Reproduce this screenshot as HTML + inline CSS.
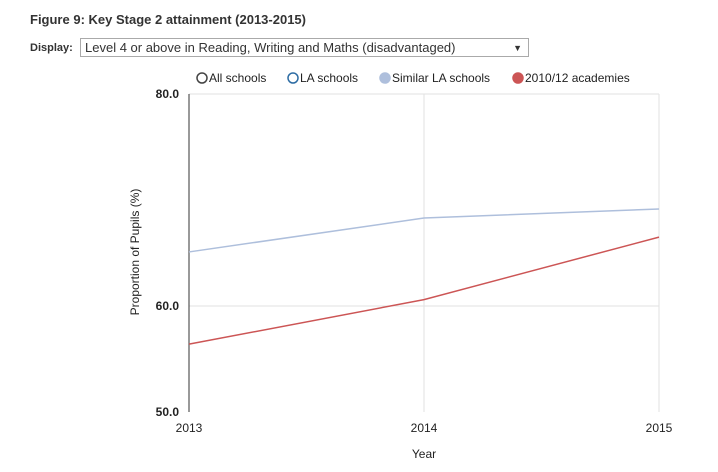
<!DOCTYPE html>
<html><head><meta charset="utf-8"><style>
body{margin:0;width:718px;height:472px;background:#fff;font-family:"Liberation Sans",Arial,sans-serif;overflow:hidden;position:relative}
.title{position:absolute;left:30px;top:12px;font-size:13px;font-weight:bold;color:#333}
.disp{position:absolute;left:30px;top:42px;font-size:11px;font-weight:bold;color:#333}
.sel{position:absolute;left:80px;top:38px;width:449px;height:19px;border:1px solid #aaa;font-size:13px;color:#333;box-sizing:border-box;padding:1px 4px;line-height:16px}
.sel span{position:absolute;right:6px;top:1px;font-size:9px}
</style></head><body>
<div class="title">Figure 9: Key Stage 2 attainment (2013-2015)</div>
<div class="disp">Display:</div>
<div class="sel">Level 4 or above in Reading, Writing and Maths (disadvantaged)<span>▼</span></div>
<svg id="chart" width="718" height="472" style="position:absolute;left:0;top:0"></svg>
<script>
const years=["2013","2014","2015"];
const similarLA=[65.1,68.3,69.15];
const academies=[56.4,60.6,66.5];
const yTicks=[50,60,80];
const ns="http://www.w3.org/2000/svg",svg=document.getElementById('chart');
const x=i=>189+i*235, y=v=>412-(v-50)*10.6;
function mk(t,a,txt){const e=document.createElementNS(ns,t);for(const k in a)e.setAttribute(k,a[k]);if(txt!==undefined)e.textContent=txt;svg.appendChild(e);return e;}
let e;
yTicks.forEach(v=>{if(v>50){e=mk('line',{x1:189,x2:659,y1:y(v),y2:y(v),stroke:'#e2e2e2'});}
e=mk('text',{x:179,y:y(v)+4,'text-anchor':'end','font-size':12,'font-weight':'bold',fill:'#222'},v.toFixed(1));});
years.forEach((yr,i)=>{if(i>0){e=mk('line',{x1:x(i),x2:x(i),y1:y(80),y2:y(50),stroke:'#e2e2e2'});}
e=mk('text',{x:x(i),y:432,'text-anchor':'middle','font-size':12,fill:'#222'},yr);});
e=mk('line',{x1:189,x2:189,y1:y(80),y2:y(50),stroke:'#333'});
e=mk('text',{x:424,y:458,'text-anchor':'middle','font-size':12,fill:'#222'},'Year');
e=mk('text',{x:0,y:0,transform:'translate(139,252) rotate(-90)','text-anchor':'middle','font-size':12,fill:'#222'},'Proportion of Pupils (%)');
function line(d,c,n){e=mk('polyline',{points:d.map((v,i)=>x(i)+','+y(v)).join(' '),fill:'none',stroke:c,'stroke-width':1.5});}
line(similarLA,'#aebfdc','line-similar-la-schools');
line(academies,'#cc5555','line-2010-12-academies');
const leg=[["All schools",202,'#fff','#444'],["LA schools",293,'#fff','#2e6da4'],["Similar LA schools",385,'#aebfdc','#aebfdc'],["2010/12 academies",518,'#cc5555','#cc5555']];
leg.forEach(l=>{e=mk('circle',{cx:l[1],cy:78,r:5,fill:l[2],stroke:l[3],'stroke-width':1.5});
e=mk('text',{x:l[1]+7,y:82,'font-size':12,fill:'#222'},l[0]);});
</script>
</body></html>
